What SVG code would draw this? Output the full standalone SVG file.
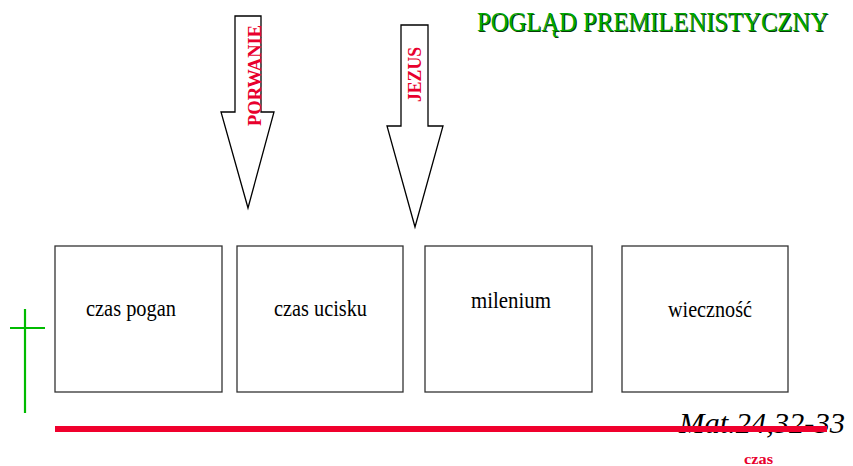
<svg xmlns="http://www.w3.org/2000/svg" width="853" height="466" viewBox="0 0 853 466">
  <style>
    .box { fill: #ffffff; stroke: #333333; stroke-width: 1.3; }
    .lbl { font-family: 'Liberation Serif', 'Times New Roman', serif; font-size: 23px; fill: #000000; }
    .arrow { fill: #ffffff; stroke: #000000; stroke-width: 1.3; stroke-linejoin: miter; }
    .vlbl { font-family: 'Liberation Serif', 'Times New Roman', serif; font-size: 18px; font-weight: bold; fill: #e8002d; }
    .title { font-family: 'Liberation Serif', 'Times New Roman', serif; font-size: 28px; }
    .cross { stroke: #00bb00; stroke-width: 2.2; }
  </style>
  <rect width="853" height="466" fill="#ffffff"/>

  <!-- title with dark drop shadow, horizontally condensed -->
  <g id="title">
    <text class="title" transform="translate(478,32) scale(0.88,1)" fill="#0a3a0a">POGLĄD PREMILENISTYCZNY</text>
    <text class="title" transform="translate(477,31) scale(0.88,1)" fill="#00a800">POGLĄD PREMILENISTYCZNY</text>
  </g>

  <!-- downward arrows -->
  <g id="porwanie">
    <polygon class="arrow" points="235,16 261,16 261,112 274,112 248,208 221,112 235,112"/>
    <text class="vlbl" transform="translate(261,126) rotate(-90)" textLength="101" lengthAdjust="spacingAndGlyphs">PORWANIE</text>
  </g>
  <g id="jezus">
    <polygon class="arrow" points="401,25 428,25 428,126 443,126 415,227 387,126 401,126"/>
    <text class="vlbl" transform="translate(421,102) rotate(-90)" textLength="55" lengthAdjust="spacingAndGlyphs">JEZUS</text>
  </g>

  <!-- period boxes -->
  <g id="czas-pogan">
    <rect class="box" x="55" y="246" width="167" height="146"/>
    <text class="lbl" x="86" y="316" textLength="90" lengthAdjust="spacingAndGlyphs">czas pogan</text>
  </g>
  <g id="czas-ucisku">
    <rect class="box" x="237" y="246" width="166" height="146"/>
    <text class="lbl" x="274" y="316" textLength="93" lengthAdjust="spacingAndGlyphs">czas ucisku</text>
  </g>
  <g id="milenium">
    <rect class="box" x="425" y="246" width="167" height="146"/>
    <text class="lbl" x="471" y="308" textLength="80" lengthAdjust="spacingAndGlyphs">milenium</text>
  </g>
  <g id="wiecznosc">
    <rect class="box" x="622" y="246" width="166" height="146"/>
    <text class="lbl" x="668" y="317" textLength="84" lengthAdjust="spacingAndGlyphs">wieczność</text>
  </g>

  <!-- cross -->
  <g id="cross">
    <line class="cross" x1="25" y1="309" x2="25" y2="413"/>
    <line class="cross" x1="10" y1="328" x2="45" y2="328"/>
  </g>

  <!-- reference text and time axis -->
  <g id="reference">
    <text x="679" y="433" font-family="'Liberation Serif', 'Times New Roman', serif" font-style="italic" font-size="30" fill="#000000" textLength="166" lengthAdjust="spacingAndGlyphs">Mat.24,32-33</text>
  </g>
  <g id="connectors">
    <line x1="55" y1="429" x2="827" y2="429" stroke="#f0002d" stroke-width="6"/>
  </g>
  <g id="axis-label">
    <text x="744" y="464" font-family="'Liberation Serif', 'Times New Roman', serif" font-weight="bold" font-size="15" fill="#e8002d" textLength="29" lengthAdjust="spacingAndGlyphs">czas</text>
  </g>
</svg>
